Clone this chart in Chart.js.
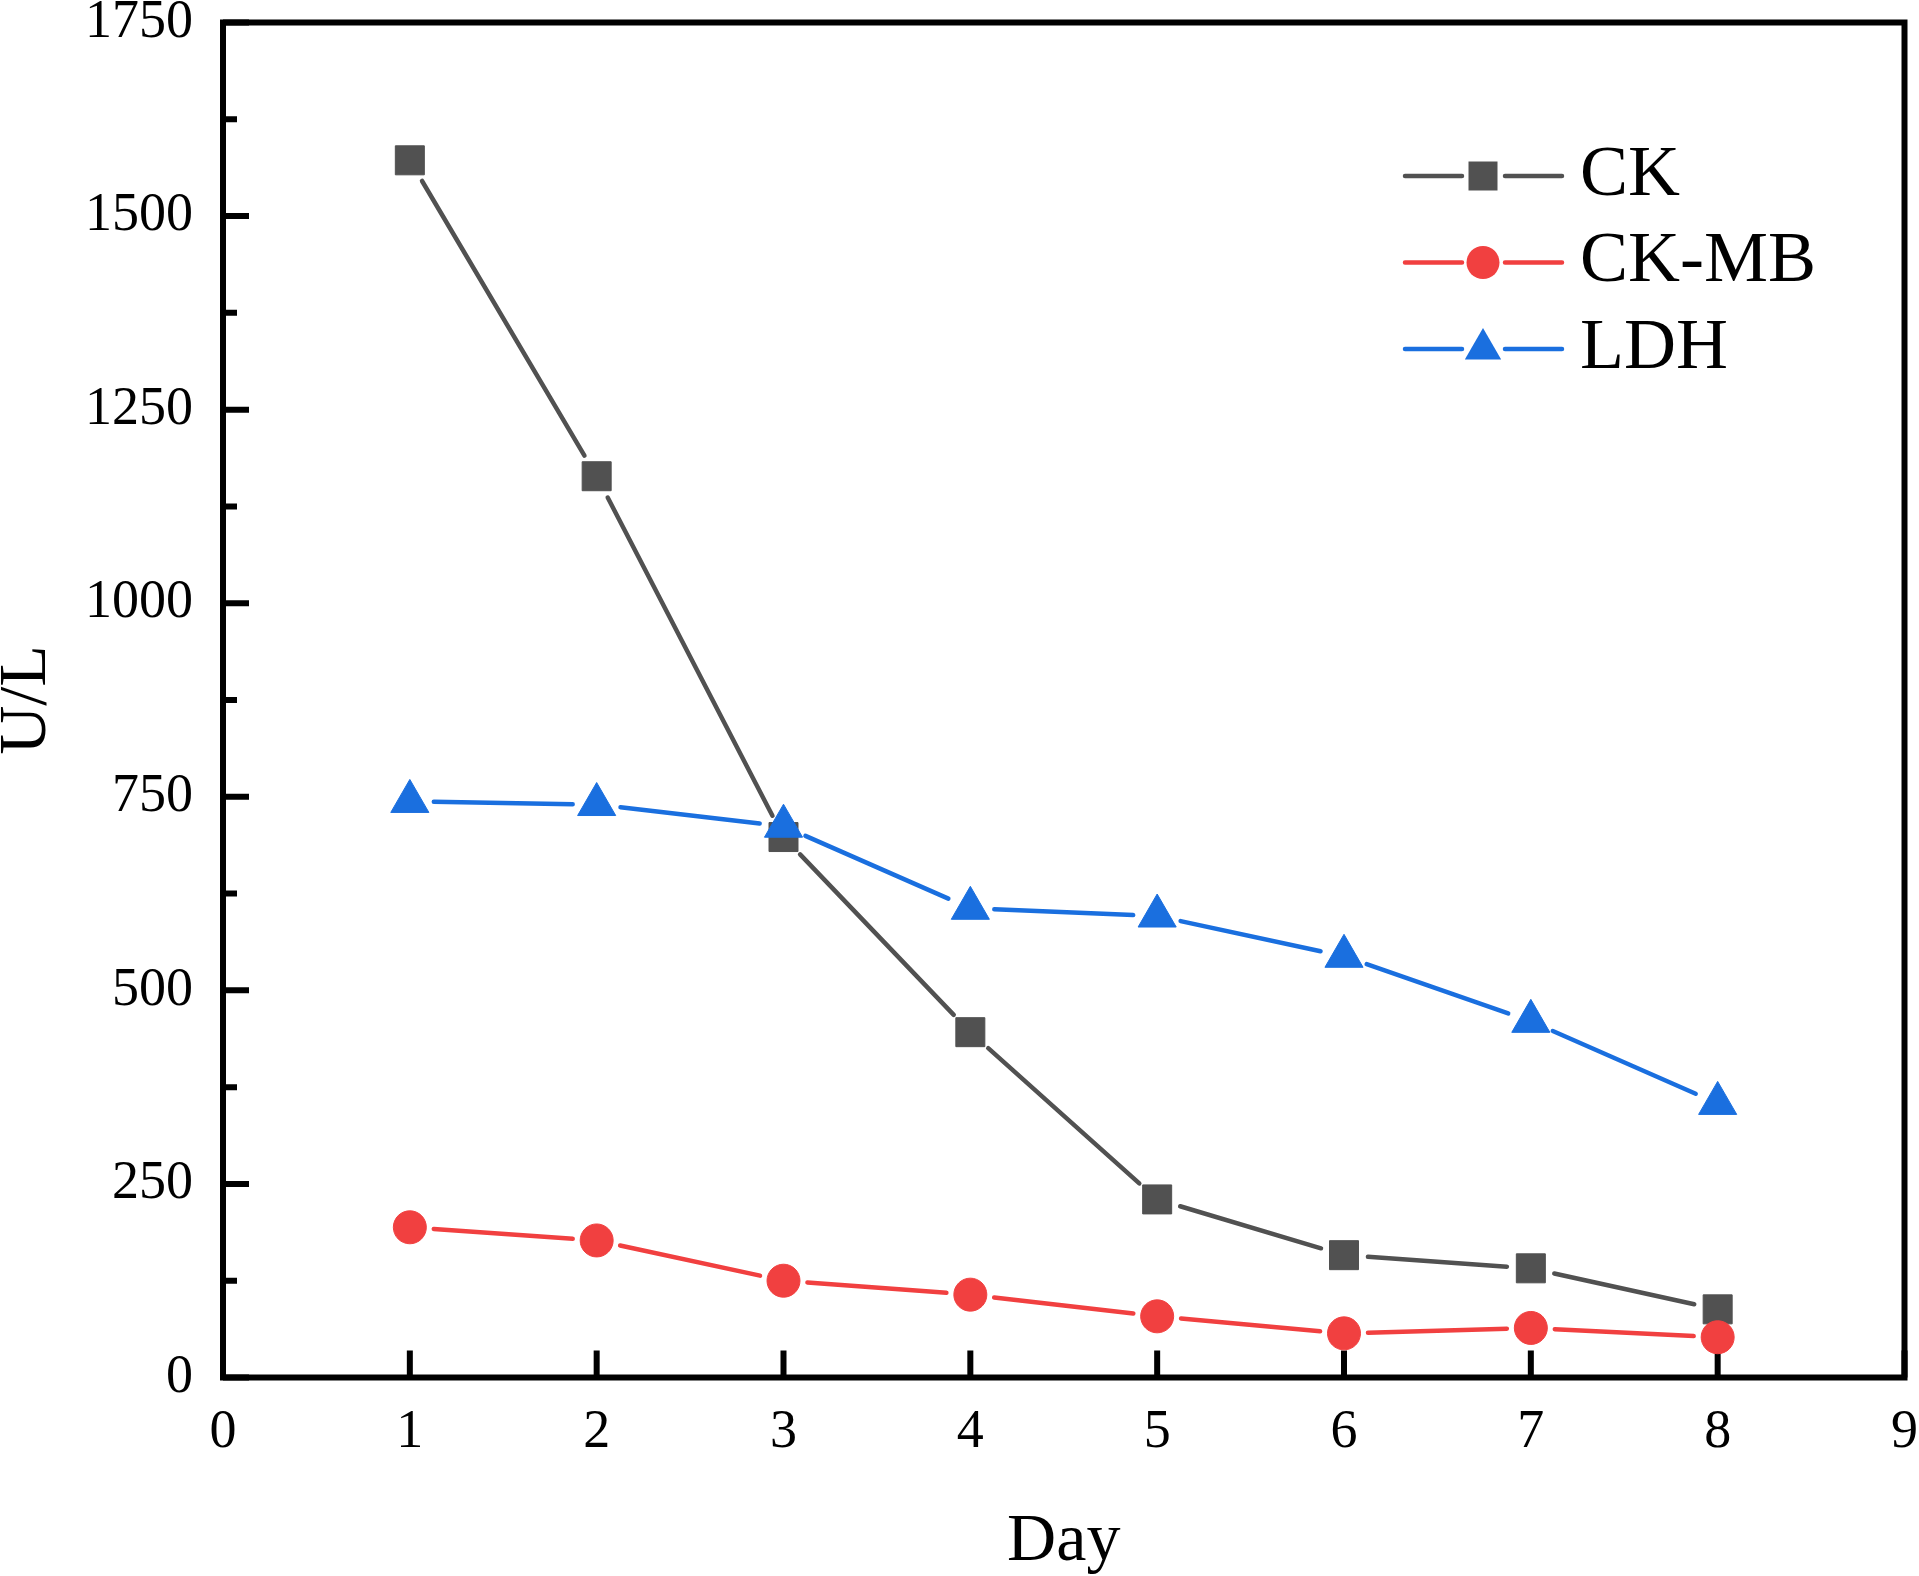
<!DOCTYPE html>
<html><head><meta charset="utf-8">
<script src="https://cdn.jsdelivr.net/npm/chart.js@4/dist/chart.umd.min.js"></script>
<style>html,body{margin:0;padding:0;background:#fff;overflow:hidden;}#wrap{width:1919px;height:1576px;position:relative;}canvas{display:block;}</style>
</head><body><div id="wrap"><canvas id="c"></canvas></div>
<script>
const days = [1, 2, 3, 4, 5, 6, 7, 8];
const ckValues = [1572, 1164, 698, 446, 230, 158, 141, 88];
const ckmbValues = [194, 177, 125, 107, 79, 57, 64, 52];
const ldhValues = [744, 740, 712, 606, 596, 544, 460, 354];
const seriesNames = ['CK', 'CK-MB', 'LDH'];
const xTickValues = [0, 1, 2, 3, 4, 5, 6, 7, 8, 9];
const yTickValues = [0, 250, 500, 750, 1000, 1250, 1500, 1750];
const yMinorTickValues = [125, 375, 625, 875, 1125, 1375, 1625];
const xTitle = 'Day';
const yTitle = 'U/L';

const COLORS = ['#515151', '#F14040', '#1A6FDF'];
const FONT = "'Liberation Serif', 'Times New Roman', serif";
const GAP = 24;

function segLen(c) { return Math.hypot(c.p1.x - c.p0.x, c.p1.y - c.p0.y); }
const gapSegment = {
  borderDash: c => { const L = segLen(c); return [Math.max(L - 2 * GAP, 0), 2 * GAP]; },
  borderDashOffset: c => segLen(c) - GAP
};

function mk(label, values, color, style, radius, order) {
  return {
    label, data: days.map((d, i) => ({ x: d, y: values[i] })),
    borderColor: color, backgroundColor: color, borderWidth: 4.5, borderCapStyle: 'round',
    pointStyle: style, pointRadius: radius, pointBackgroundColor: color, pointBorderColor: color,
    pointBorderWidth: 1, pointHoverRadius: radius, tension: 0, order, segment: gapSegment
  };
}

const framePlugin = {
  id: 'frame',
  beforeDatasetsDraw(chart) {
    const { ctx, chartArea: a, scales } = chart;
    ctx.save();
    ctx.strokeStyle = '#000';
    ctx.lineWidth = 6;
    ctx.lineCap = 'butt';
    ctx.beginPath();
    yTickValues.forEach(v => { const y = scales.y.getPixelForValue(v); ctx.moveTo(a.left, y); ctx.lineTo(a.left + 26, y); });
    yMinorTickValues.forEach(v => { const y = scales.y.getPixelForValue(v); ctx.moveTo(a.left, y); ctx.lineTo(a.left + 14, y); });
    xTickValues.forEach(v => { const x = scales.x.getPixelForValue(v); ctx.moveTo(x, a.bottom); ctx.lineTo(x, a.bottom - 27); });
    ctx.stroke();
    ctx.lineJoin = 'miter';
    ctx.strokeRect(a.left, a.top, a.right - a.left, a.bottom - a.top);
    ctx.restore();
  }
};

const legendPlugin = {
  id: 'customLegend',
  afterDraw(chart) {
    const ctx = chart.ctx;
    ctx.save();
    chart.data.datasets.forEach((ds, i) => {
      const y = 176 + i * 86.5;
      const cx = 1483;
      ctx.strokeStyle = ds.borderColor;
      ctx.lineWidth = 4.5;
      ctx.lineCap = 'round';
      ctx.beginPath();
      ctx.moveTo(1405, y); ctx.lineTo(1462, y);
      ctx.moveTo(1505, y); ctx.lineTo(1562, y);
      ctx.stroke();
      ctx.fillStyle = ds.pointBackgroundColor;
      ctx.beginPath();
      if (ds.pointStyle === 'rect') {
        ctx.rect(cx - 14.5, y - 14.5, 29, 29);
      } else if (ds.pointStyle === 'circle') {
        ctx.arc(cx, y, 16.5, 0, Math.PI * 2);
      } else {
        const r = 21;
        ctx.moveTo(cx, y - r);
        ctx.lineTo(cx + Math.sin(2 * Math.PI / 3) * r, y + r / 2);
        ctx.lineTo(cx - Math.sin(2 * Math.PI / 3) * r, y + r / 2);
        ctx.closePath();
      }
      ctx.fill();
      ctx.fillStyle = '#000';
      ctx.font = '72px ' + FONT;
      ctx.textAlign = 'left';
      ctx.textBaseline = 'middle';
      ctx.fillText(ds.label, 1580, y);
    });
    ctx.restore();
  }
};

new Chart(document.getElementById('c'), {
  type: 'line',
  data: {
    datasets: [
      mk(seriesNames[0], ckValues, COLORS[0], 'rect', 20.5, 2),
      mk(seriesNames[1], ckmbValues, COLORS[1], 'circle', 16.5, 1),
      mk(seriesNames[2], ldhValues, COLORS[2], 'triangle', 22, 0)
    ]
  },
  options: {
    responsive: true, maintainAspectRatio: false, animation: false, devicePixelRatio: 1,
    events: [],
    layout: { autoPadding: false, padding: { top: 22.5, right: 14.5, left: 0, bottom: 0 } },
    plugins: { legend: { display: false }, tooltip: { enabled: false } },
    scales: {
      x: {
        type: 'linear', position: 'bottom', min: 0, max: 9,
        afterBuildTicks: s => { s.ticks = xTickValues.map(v => ({ value: v })); },
        grid: { display: false, drawTicks: false, tickLength: 0 },
        border: { display: false },
        ticks: { autoSkip: false, maxRotation: 0, padding: 23, color: '#000', callback: v => String(v), font: { family: FONT, size: 54, lineHeight: 1.2 } },
        title: { display: true, text: xTitle, color: '#000', padding: 0, font: { family: FONT, size: 68, lineHeight: 1.0 } },
        afterFit: s => { s.height = 198.5; s.paddingLeft = 0; s.paddingRight = 0; }
      },
      y: {
        type: 'linear', position: 'left', min: 0, max: 1750,
        afterBuildTicks: s => { s.ticks = yTickValues.map(v => ({ value: v })); },
        grid: { display: false, drawTicks: false, tickLength: 0 },
        border: { display: false },
        ticks: { autoSkip: false, padding: 30, color: '#000', callback: v => String(v), font: { family: FONT, size: 54, lineHeight: 0.6 } },
        title: { display: true, text: yTitle, color: '#000', padding: 0, font: { family: FONT, size: 68, lineHeight: 0.8 } },
        afterFit: s => { s.width = 223; s.paddingTop = 0; s.paddingBottom = 0; }
      }
    }
  },
  plugins: [framePlugin, legendPlugin]
});
</script></body></html>
